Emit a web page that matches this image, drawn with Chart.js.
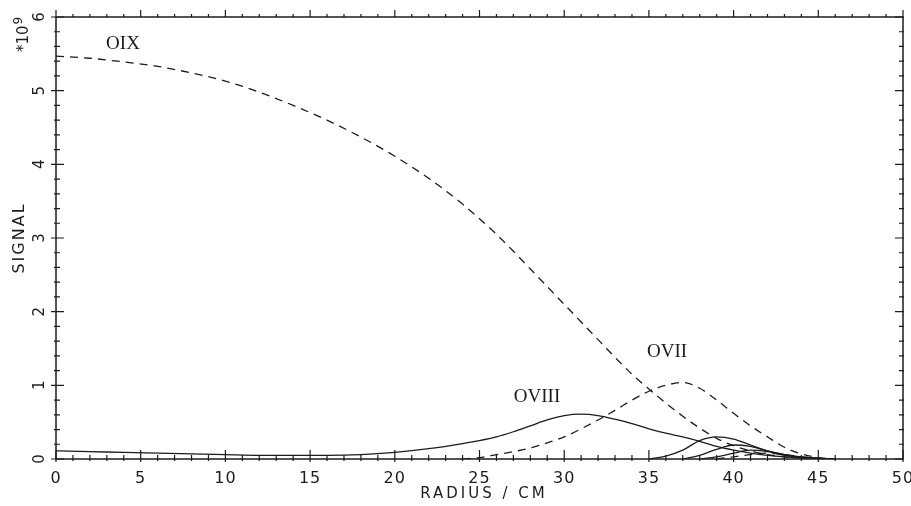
<!DOCTYPE html>
<html>
<head>
<meta charset="utf-8">
<script src="https://cdn.jsdelivr.net/npm/chart.js@4.4.1/dist/chart.umd.min.js"></script>
<style>
    html, body { margin: 0; padding: 0; background: #fff; }
    #wrap { width: 911px; height: 506px; }
</style>
</head>
<body>
<div id="wrap"><canvas id="chart" width="911" height="506"></canvas></div>
<script>
// radius grid (cm) shared by the three big emission profiles
const radius = [0, 2, 4, 6, 8, 10, 12, 14, 16, 18, 20, 22, 24,
    25, 26, 27, 28, 29, 30, 31, 32, 33, 34, 35, 36, 37, 38, 39, 40, 41, 42, 43, 44, 45, 46];

// signal in units of 1e9
const oix = [5.47, 5.44, 5.39, 5.33, 5.24, 5.13, 4.98, 4.80, 4.60, 4.37, 4.11, 3.81, 3.46,
    3.26, 3.05, 2.82, 2.58, 2.34, 2.10, 1.86, 1.62, 1.38, 1.15, 0.95, 0.76, 0.58, 0.42, 0.28, 0.18, 0.11, 0.06, 0.03, 0.015, 0.005, 0];
const oviii = [0.11, 0.10, 0.09, 0.08, 0.07, 0.06, 0.05, 0.05, 0.05, 0.06, 0.09, 0.14, 0.21,
    0.25, 0.30, 0.37, 0.45, 0.53, 0.59, 0.61, 0.59, 0.54, 0.48, 0.41, 0.35, 0.30, 0.24, 0.17, 0.12, 0.08, 0.05, 0.03, 0.015, 0.005, 0];
const ovii = [null, null, null, null, null, null, null, null, null, null, null, null, 0,
    0.02, 0.06, 0.10, 0.15, 0.22, 0.30, 0.41, 0.53, 0.66, 0.80, 0.92, 1.00, 1.04, 0.96, 0.80, 0.62, 0.45, 0.30, 0.16, 0.07, 0.02, 0];

// the small lower ionisation stages near the edge
const edgeRadius = [35, 36, 37, 38, 39, 40, 41, 42, 43, 44, 45, 46];
const edge1 = [0, 0.04, 0.12, 0.25, 0.30, 0.27, 0.19, 0.11, 0.05, 0.02, 0.005, 0];
const edge2 = [null, null, 0, 0.05, 0.13, 0.19, 0.17, 0.11, 0.06, 0.02, 0.005, 0];
const edge3 = [null, null, null, 0, 0.03, 0.08, 0.12, 0.10, 0.06, 0.03, 0.01, 0];
const edge4 = [null, null, null, null, 0, 0.03, 0.06, 0.08, 0.06, 0.03, 0.01, 0];

const xTicks = [0, 5, 10, 15, 20, 25, 30, 35, 40, 45, 50];
const yTicks = [0, 1, 2, 3, 4, 5, 6];

const ink = '#1c1c1c';

function toPoints(xs, ys) {
    return xs.map((x, i) => ({ x, y: ys[i] }));
}

function curve(xs, ys, dashed) {
    return {
        data: toPoints(xs, ys),
        borderColor: ink,
        borderWidth: 1.3,
        borderDash: dashed ? [8, 6] : [],
        pointRadius: 0,
        cubicInterpolationMode: 'monotone',
        fill: false,
    };
}

const plotFrame = {
    id: 'plotFrame',
    afterDraw(chart) {
        const { ctx, chartArea: a, scales: { x, y } } = chart;
        ctx.save();
        ctx.strokeStyle = ink;
        ctx.fillStyle = ink;
        ctx.lineWidth = 1.5;
        ctx.strokeRect(a.left, a.top, a.right - a.left, a.bottom - a.top);

        ctx.lineWidth = 1.2;
        ctx.beginPath();
        for (let v = 0; v <= 50; v++) {
            const px = x.getPixelForValue(v);
            const major = v % 5 === 0;
            ctx.moveTo(px, a.bottom + (major ? 3 : 2));
            ctx.lineTo(px, a.bottom - (major ? 9 : 4));
            ctx.moveTo(px, a.top);
            ctx.lineTo(px, a.top - (major ? 7 : 3));
        }
        for (let i = 0; i <= 30; i++) {
            const py = y.getPixelForValue(i / 5);
            const major = i % 5 === 0;
            ctx.moveTo(a.left - (major ? 5 : 2), py);
            ctx.lineTo(a.left + (major ? 8 : 4), py);
            ctx.moveTo(a.right + 1, py);
            ctx.lineTo(a.right - (major ? 8 : 4), py);
        }
        ctx.stroke();

        // x tick labels
        ctx.font = '16px "DejaVu Sans"';
        ctx.letterSpacing = '1px';
        ctx.textAlign = 'center';
        ctx.textBaseline = 'middle';
        xTicks.forEach(v => {
            ctx.fillText(String(v), x.getPixelForValue(v), 479);
        });

        ctx.letterSpacing = '3px';
        ctx.font = '15px "DejaVu Sans"';
        ctx.fillText('RADIUS / CM', 484, 494);

        // y tick labels, turned on their side
        ctx.letterSpacing = '0px';
        ctx.font = '15px "DejaVu Sans"';
        yTicks.forEach(v => {
            ctx.save();
            ctx.translate(40, y.getPixelForValue(v));
            ctx.rotate(-Math.PI / 2);
            ctx.fillText(String(v), 0, 0);
            ctx.restore();
        });

        ctx.save();
        ctx.translate(20, 238);
        ctx.rotate(-Math.PI / 2);
        ctx.letterSpacing = '2px';
        ctx.font = '16px "DejaVu Sans"';
        ctx.fillText('SIGNAL', 0, 0);
        ctx.restore();

        ctx.save();
        ctx.translate(28, 52);
        ctx.rotate(-Math.PI / 2);
        ctx.textAlign = 'left';
        ctx.textBaseline = 'alphabetic';
        ctx.font = '15px "DejaVu Sans"';
        ctx.fillText('*10', 0, 0);
        const w = ctx.measureText('*10').width;
        ctx.font = '12px "DejaVu Sans"';
        ctx.fillText('9', w + 1, -6);
        ctx.restore();

        // curve names
        ctx.font = '19px "Liberation Serif"';
        ctx.textAlign = 'center';
        ctx.textBaseline = 'middle';
        ctx.fillText('OIX', 123, 44);
        ctx.fillText('OVIII', 537, 397);
        ctx.fillText('OVII', 667, 352);

        ctx.restore();
    }
};

new Chart(document.getElementById('chart'), {
    type: 'line',
    data: {
        datasets: [
            curve(radius, oix, true),
            curve(radius, oviii, false),
            curve(radius, ovii, true),
            curve(edgeRadius, edge1, false),
            curve(edgeRadius, edge2, false),
            curve(edgeRadius, edge3, false),
            curve(edgeRadius, edge4, true),
        ]
    },
    options: {
        responsive: false,
        devicePixelRatio: 1,
        animation: false,
        layout: { padding: { left: 56, right: 8, top: 17, bottom: 47 } },
        scales: {
            x: { type: 'linear', min: 0, max: 50, display: false },
            y: { type: 'linear', min: 0, max: 6, display: false },
        },
        plugins: {
            legend: { display: false },
            tooltip: { enabled: false },
        }
    },
    plugins: [plotFrame]
});
</script>
</body>
</html>
